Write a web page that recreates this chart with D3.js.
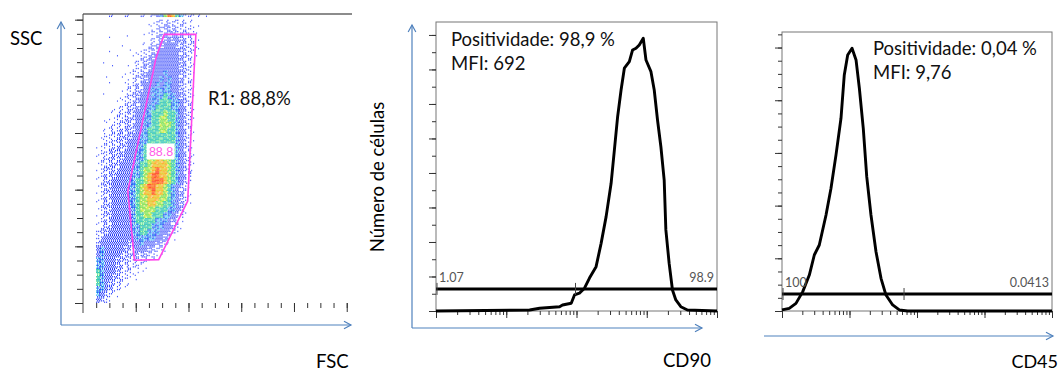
<!DOCTYPE html>
<html>
<head>
<meta charset="utf-8">
<script src="https://cdn.jsdelivr.net/npm/d3@7"></script>
<style>
  body { margin: 0; background: #fff; }
  svg text { font-family: Lato, "Open Sans", sans-serif; }
</style>
</head>
<body>
<svg id="chart" width="1060" height="373"></svg>
<script>
// ---------- data ----------
const fscDomain = [0, 1020];
const sscDomain = [0, 1020];
const fscBinStart = 50, fscBinWidth = 15;
const sscBinTop = 1000, sscBinHeight = 20;

// density level (0-9) per FSC bin, one string per SSC bin, from SSC 1000 down to 0
const densityRows = [
  "0000000000000112222222211000",
  "0000000000000112233322221100",
  "0000000100001122333333322100",
  "0001000000000122334343322100",
  "0000001000011223344433322100",
  "0001000010112233444443322100",
  "0000010001122334444443321100",
  "0100000001223344444443321000",
  "0000100011223344444443321000",
  "0000000112233444454443321000",
  "0010001012233444545443221000",
  "0001000122334445455443221000",
  "0000001122334455555443221000",
  "0100001223344455565543321000",
  "0000011223344455666554321000",
  "0000112233344556666554321000",
  "0001122233445566676654321000",
  "0011122333445566776654321000",
  "0011222333445566777654321000",
  "0112223333445666776654321000",
  "0122233334455666666654321000",
  "0122233344455666666654321000",
  "1122333344556667776654321000",
  "1223333444556677777654321000",
  "1223333444556778877654321000",
  "1223334444566788887654321000",
  "1233334445567789887654321000",
  "1233344445567899887654320000",
  "1233444455667899987654320000",
  "1233444455678998876543210000",
  "1233444455678898876543210000",
  "1233444455677888776543210000",
  "1233444455677887766543210000",
  "1233444445677776665543100000",
  "1233444445667766655432100000",
  "1233444445666665554321000000",
  "1233444445566655544321000000",
  "2334444445566555443210000000",
  "2344444444555554432100000000",
  "3444444434454443321000000000",
  "4544444333444332210000000000",
  "4544443333333221100000000000",
  "5544433322222110000000000000",
  "5544433222211000000000000000",
  "6544432221110000000000000000",
  "6544332211100000000000000000",
  "6543322110000000000000000000",
  "5543221100000000000000000000",
  "5432110000000000000000000000",
  "4321000000000000000000000000"
];
// off-scale events piled on the top edge (SSC > 1000)
const saturatedRow = "0112111211121234579865322221";

const gateFsc = [308, 428, 397, 287, 195, 170, 277];
const gateSsc = [948, 948, 360, 153, 151, 395, 865];
const gateValue = "88.8";
const gateText = "R1: 88,8%";

const cd90Values = [1, 21.5, 29.9, 57.4, 63.3, 84.1, 93.7, 110, 130, 153, 190, 224, 264, 311, 346, 385, 431, 480, 565, 629,
                    703, 783, 892, 975, 1148, 1278, 1423, 1590, 1771, 1871, 2084, 2323, 2594, 3055, 3793, 10000];
const cd90Counts = [0, 0.6, 1.6, 2.5, 3.5, 4.5, 9.3, 10.3, 13.2, 19.1, 25.7, 39.2, 54.7, 74.0, 93.3, 112.6, 128.1, 140.7, 144.5, 151.3,
                    152.3, 154.2, 158.1, 145.5, 138.7, 128.1, 110.7, 95.2, 75.9, 47.0, 27.6, 12.2, 6.4, 2.5, 0.6, 0];
const cd90Marker = {start: 1, split: 93.7, end: 10000, level: 12.8, left: "1.07", right: "98.9"};
const cd90Stats = ["Positividade: 98,9 %", "MFI: 692"];

const cd45Values = [1, 1.28, 1.61, 2.03, 2.54, 3.01, 3.57, 4.49, 5.32, 6.31, 7.48, 8.37, 9.40, 10.9, 12.5, 14.0, 16.0, 18.0, 20.8, 24.7,
                    29.3, 34.7, 43.6, 54.7, 72.8, 10000];
const cd45Counts = [0.8, 2.0, 5.8, 14.7, 27.3, 42.5, 50.1, 72.9, 93.2, 118.5, 146.3, 179.2, 194.4, 199.5, 190.6, 169.1, 138.7, 102.0, 72.9, 45.0,
                    24.8, 12.1, 4.6, 0.8, 0, 0];
const cd45Marker = {start: 1, split: 62.1, end: 10000, level: 12.9, left: "100", right: "0.0413"};
const cd45Stats = ["Positividade: 0,04 %", "MFI: 9,76"];

// ---------- drawing ----------
const svg = d3.select("#chart");
const axisBlue = "#4f81bd";
const levelColor = ["#fff", "#4a5cff", "#3446ff", "#2236ff", "#1a2ef8", "#14a8f0", "#2ad86a", "#c6e61c", "#ff9a00", "#ff2800"];
const levelDots = [0, 1, 3, 5, 8, 11, 13, 14, 15, 16];
const bayer = [[0, 8, 2, 10], [12, 4, 14, 6], [3, 11, 1, 9], [15, 7, 13, 5]];

function blueArrow(x1, y1, x2, y2) {
    let a = Math.atan2(y2 - y1, x2 - x1), h = 8, w = 0.5;
    let g = svg.append("g").attr("stroke", axisBlue).attr("stroke-width", 1.2).attr("fill", "none");
    g.append("line").attr("x1", x1).attr("y1", y1).attr("x2", x2).attr("y2", y2);
    g.append("path").attr("d", "M" + (x2 - h * Math.cos(a - w)) + "," + (y2 - h * Math.sin(a - w)) +
        "L" + x2 + "," + y2 + "L" + (x2 - h * Math.cos(a + w)) + "," + (y2 - h * Math.sin(a + w)));
}

function styleTicks(g) {
    g.select(".domain").remove();
    g.selectAll(".tick line").attr("stroke", "#333");
}

function DotPlot() {
    let self = this;

    self.initialize = function() {
        self.x = d3.scaleLinear().domain(fscDomain).range([83, 352]);
        self.y = d3.scaleLinear().domain(sscDomain).range([303, 14]);
        self.g = svg.append("g").attr("class", "dotplot");
        self.renderDensity();
        self.renderGate();
        self.renderAxes();
    };

    // dithered dots for one bin; pattern shifted per bin so it does not look like hatching
    self.cellDots = function(level, r, c, fsc0, fsc1, ssc0, ssc1, rows) {
        let x0 = self.x(fsc0), x1 = self.x(fsc1), yTop = self.y(ssc1), yBot = self.y(ssc0);
        let sw = (x1 - x0) / 4, sh = (yBot - yTop) / rows, out = [];
        for (let j = 0; j < rows; j++)
            for (let i = 0; i < 4; i++) {
                let b = bayer[(j + r * 3 + c) % 4][(i + c * 3 + r * 2) % 4];
                if (b >= levelDots[level]) continue;
                let col = levelColor[level];
                if (level >= 5 && b >= levelDots[level] - 5) col = levelColor[level - 1];
                out.push({x: x0 + i * sw, y: yTop + j * sh, w: sw * 1.05, h: sh * 0.95, c: col});
            }
        return out;
    };

    self.renderDensity = function() {
        let dots = [];
        densityRows.forEach(function(row, r) {
            row.split("").forEach(function(ch, c) {
                let lv = +ch;
                if (!lv) return;
                dots = dots.concat(self.cellDots(lv, r, c, fscBinStart + c * fscBinWidth, fscBinStart + (c + 1) * fscBinWidth,
                    sscBinTop - (r + 1) * sscBinHeight, sscBinTop - r * sscBinHeight, 4));
            });
        });
        saturatedRow.split("").forEach(function(ch, c) {
            let lv = +ch;
            if (!lv) return;
            dots = dots.concat(self.cellDots(lv, 0, c, fscBinStart + c * fscBinWidth, fscBinStart + (c + 1) * fscBinWidth,
                1009, 1020, 2));
        });
        self.g.append("g").selectAll("rect").data(dots).enter().append("rect")
            .attr("x", d => d.x).attr("y", d => d.y).attr("width", d => d.w).attr("height", d => d.h)
            .attr("fill", d => d.c);
    };

    self.renderGate = function() {
        let pts = gateFsc.map((f, i) => [self.x(f), self.y(gateSsc[i])]);
        self.g.append("polygon").attr("points", pts.map(p => p.join(",")).join(" "))
            .attr("fill", "none").attr("stroke", "#ff45ea").attr("stroke-width", 1.6);
        let cx = d3.mean(pts.slice(0, 3), p => p[0]) - 22, cy = self.y(535);
        self.g.append("rect").attr("x", cx - 14).attr("y", cy - 8).attr("width", 28).attr("height", 16).attr("fill", "#fff");
        self.g.append("text").attr("x", cx + 0.5).attr("y", cy + 4.5).attr("text-anchor", "middle")
            .style("font-family", "'Liberation Sans', Arial, sans-serif").style("font-size", "12.5px")
            .attr("fill", "#ff5ce8").text(gateValue);
        self.g.append("text").attr("x", 208).attr("y", 105).style("font-size", "18.5px").attr("fill", "#111").text(gateText);
    };

    self.renderAxes = function() {
        self.g.append("line").attr("x1", 83).attr("x2", 352).attr("y1", 14).attr("y2", 14)
            .attr("stroke", "#666").attr("stroke-width", 1.5);
        self.g.append("line").attr("x1", 83).attr("x2", 83).attr("y1", 14).attr("y2", 313).attr("stroke", "#444");
        self.g.append("g").attr("transform", "translate(83,0)")
            .call(d3.axisLeft(self.y).tickValues(d3.range(0, 1001, 50)).tickSize(6).tickFormat("")).call(styleTicks);
        self.g.append("g").attr("transform", "translate(83,0)")
            .call(d3.axisLeft(self.y).tickValues(d3.range(0, 1001, 200)).tickSize(8).tickFormat("")).call(styleTicks);
        self.g.append("g").attr("transform", "translate(0,303)")
            .call(d3.axisBottom(self.x).tickValues(d3.range(50, 1001, 50)).tickSize(5).tickFormat("")).call(styleTicks);
        self.g.append("g").attr("transform", "translate(0,303)")
            .call(d3.axisBottom(self.x).tickValues(d3.range(200, 1001, 200)).tickSize(9).tickFormat("")).call(styleTicks);

        blueArrow(61, 325, 61, 22);
        blueArrow(61, 325, 351, 325);
        svg.append("text").attr("x", 10).attr("y", 45).style("font-size", "18.5px").text("SSC");
        svg.append("text").attr("x", 316).attr("y", 368).style("font-size", "18.5px").text("FSC");
    };
}

function Histogram(conf) {
    let self = this;

    self.initialize = function() {
        self.x = d3.scaleLog().domain([1, 10000]).range([conf.left, conf.right]);
        self.y = d3.scaleLinear().domain([0, conf.yMax]).range([conf.bottom, conf.top]);
        self.g = svg.append("g").attr("class", "histogram");
        self.renderFrame();
        self.renderCurve();
        self.renderMarker();
        self.renderText();
    };

    self.renderFrame = function() {
        self.g.append("rect").attr("x", conf.left).attr("y", conf.top)
            .attr("width", conf.right - conf.left).attr("height", conf.bottom - conf.top)
            .attr("fill", "none").attr("stroke", "#777");
        self.g.append("g").attr("transform", "translate(" + conf.left + ",0)")
            .call(d3.axisLeft(self.y).tickValues(d3.range(0, conf.yMax, 10)).tickSize(4).tickFormat("")).call(styleTicks);
        self.g.append("g").attr("transform", "translate(" + conf.left + ",0)")
            .call(d3.axisLeft(self.y).tickValues(d3.range(0, conf.yMax, conf.majorStep)).tickSize(7).tickFormat("")).call(styleTicks);
        self.g.append("g").attr("transform", "translate(0," + conf.bottom + ")")
            .call(d3.axisBottom(self.x).tickValues(self.x.ticks()).tickSize(4).tickFormat("")).call(styleTicks);
        self.g.append("g").attr("transform", "translate(0," + conf.bottom + ")")
            .call(d3.axisBottom(self.x).tickValues([1, 10, 100, 1000, 10000]).tickSize(7).tickFormat("")).call(styleTicks);
    };

    self.renderCurve = function() {
        let line = d3.line().x(d => self.x(d[0])).y(d => self.y(d[1]));
        let pts = conf.values.map((v, i) => [v, conf.counts[i]]);
        self.g.append("path").attr("d", line(pts)).attr("fill", "none")
            .attr("stroke", "#000").attr("stroke-width", 2.9).attr("stroke-linejoin", "round");
    };

    self.renderMarker = function() {
        let m = conf.marker, my = self.y(m.level);
        self.g.append("line").attr("x1", self.x(m.start)).attr("x2", self.x(m.end)).attr("y1", my).attr("y2", my)
            .attr("stroke", "#000").attr("stroke-width", 3);
        [m.start, m.split].forEach(function(v) {
            self.g.append("line").attr("x1", self.x(v) + 1).attr("x2", self.x(v) + 1)
                .attr("y1", my - 6).attr("y2", my + 6).attr("stroke", "#444");
        });
        let lab = self.g.append("g").style("font-family", "'Liberation Sans', Arial, sans-serif")
            .style("font-size", "12.5px").attr("fill", "#555");
        lab.append("text").attr("x", self.x(m.start) + 3).attr("y", my - 7).text(m.left);
        lab.append("text").attr("x", self.x(m.end) - 3).attr("y", my - 7).attr("text-anchor", "end").text(m.right);
    };

    self.renderText = function() {
        conf.stats.forEach(function(s, i) {
            self.g.append("text").attr("x", conf.statsX).attr("y", conf.statsY + i * 23.5)
                .style("font-size", "18.5px").attr("fill", "#111").text(s);
        });
    };
}

new DotPlot().initialize();

new Histogram({left: 436, right: 717, top: 22, bottom: 311, yMax: 167.5, majorStep: 20,
    values: cd90Values, counts: cd90Counts, marker: cd90Marker, stats: cd90Stats, statsX: 451, statsY: 46}).initialize();
blueArrow(412, 328, 412, 25);
blueArrow(412, 328, 702, 328);
svg.append("text").attr("transform", "translate(384,177) rotate(-90)").attr("text-anchor", "middle")
    .style("font-size", "18.5px").text("Número de células");
svg.append("text").attr("x", 663).attr("y", 367).style("font-size", "18.5px").text("CD90");

new Histogram({left: 782, right: 1052, top: 32, bottom: 311, yMax: 211.8, majorStep: 40,
    values: cd45Values, counts: cd45Counts, marker: cd45Marker, stats: cd45Stats, statsX: 873, statsY: 55}).initialize();
blueArrow(764, 336, 1053, 336);
svg.append("text").attr("x", 1058).attr("y", 368).attr("text-anchor", "end").style("font-size", "18px").text("CD45");
</script>
</body>
</html>
